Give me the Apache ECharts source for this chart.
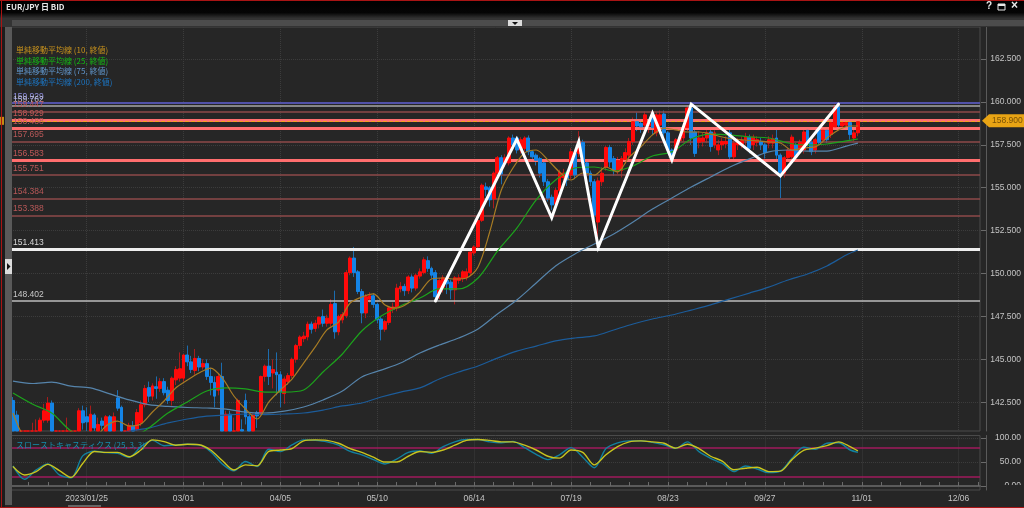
<!DOCTYPE html>
<html>
<head>
<meta charset="utf-8">
<title>EUR/JPY</title>
<style>
  html, body { margin: 0; padding: 0; background: #262626; }
  #chart { width: 1024px; height: 508px; }
</style>
<script src="https://cdn.jsdelivr.net/npm/echarts@6/dist/echarts.min.js"></script>
</head>
<body>
<div id="chart"></div>
<script>
// x axis tick labels, first one sits on bar 19, then one every 25 bars
const dateLabels = ["2023/01/25", "03/01", "04/05", "05/10", "06/14", "07/19", "08/23", "09/27", "11/01", "12/06"];
const barCount = 250;

// open, close, low, high
const candles = [
  [142.6,140.5,140.4,142.8],[141.75,140.6,140.3,142.0],[140.5,140.3,140.0,140.6],[140.3,140.6,140.1,140.7],[140.6,140.4,140.2,140.75],
  [140.7,140.4,140.2,141.3],[140.4,140.7,140.2,141.5],[140.6,141.45,140.4,141.6],[141.45,142.0,141.3,142.4],[141.45,142.45,141.3,142.8],
  [142.45,140.8,140.6,142.6],[140.7,140.4,140.1,140.7],[140.4,140.6,140.2,140.7],[140.6,140.7,140.3,140.8],[140.5,140.7,140.3,141.6],
  [140.7,140.5,140.3,140.8],[140.5,140.7,140.2,140.8],[140.6,142.0,140.5,142.15],[142.0,141.3,140.9,142.3],[141.65,141.35,140.6,142.2],
  [140.6,141.8,140.4,142.3],[141.75,141.0,140.7,141.85],[140.7,141.2,140.5,141.6],[141.4,141.15,140.9,141.6],[140.7,141.65,140.5,141.75],
  [141.65,140.7,140.5,141.75],[140.7,141.65,140.5,141.9],[142.75,142.15,142.0,143.2],[142.2,140.6,140.5,142.3],[140.6,140.4,140.2,140.8],
  [140.4,141.15,140.2,141.3],[141.1,140.7,140.5,141.4],[140.9,141.9,140.8,142.1],[141.3,142.35,141.1,142.6],[142.35,143.3,142.2,143.5],
  [143.35,142.85,142.5,143.7],[142.85,143.45,142.6,143.6],[143.4,143.3,142.7,144.0],[143.3,143.7,143.1,143.9],[143.7,143.05,142.9,143.9],
  [143.2,142.6,142.4,143.4],[142.6,143.9,142.3,144.0],[143.8,144.4,143.5,144.6],[143.9,144.45,143.7,145.4],[143.9,145.25,143.7,145.3],
  [145.25,144.85,144.6,145.8],[144.85,144.4,144.2,145.2],[144.35,145.05,144.1,145.6],[145.05,144.55,144.3,145.2],[144.55,144.75,144.4,145.0],
  [144.75,144.0,143.8,145.0],[144.0,143.65,142.9,144.5],[143.65,142.85,142.2,144.0],[143.2,144.0,142.9,144.2],[144.0,140.6,140.4,144.8],
  [140.6,141.8,140.4,142.0],[141.8,140.6,140.4,142.0],[140.5,140.8,140.2,141.6],[140.6,142.6,140.4,142.7],[140.9,140.6,140.4,141.5],
  [142.6,141.65,141.2,143.0],[141.65,140.6,140.4,141.8],[140.6,141.75,140.4,141.85],[141.9,141.7,141.0,142.0],[141.85,144.0,141.7,144.05],
  [144.0,144.6,143.7,144.7],[144.6,144.0,143.5,145.6],[144.2,144.4,143.3,145.0],[144.25,144.1,142.9,145.4],[144.1,143.1,142.2,144.3],
  [143.0,143.85,142.4,144.0],[143.7,144.05,143.5,144.2],[144.05,145.0,143.9,145.1],[145.0,145.8,144.8,145.9],[145.8,146.3,145.6,146.4],
  [146.2,146.35,146.0,146.6],[146.3,147.05,146.1,147.2],[147.05,146.75,146.5,147.2],[146.8,147.1,146.6,147.3],[147.05,147.45,146.8,147.5],
  [147.5,147.1,146.9,147.9],[147.1,147.4,146.9,147.6],[147.1,148.2,146.9,148.5],[148.25,146.6,146.2,149.0],[146.6,147.5,146.4,147.6],
  [147.3,147.6,147.1,147.75],[147.55,150.05,147.4,150.2],[150.05,150.9,149.9,151.0],[150.9,150.05,149.8,151.55],[150.1,148.95,148.8,150.2],
  [148.95,147.7,147.1,149.1],[147.7,148.65,147.4,148.8],[148.5,148.7,148.3,148.9],[148.7,148.2,148.0,148.85],[148.2,147.3,147.1,148.3],
  [147.35,146.75,146.1,147.5],[146.75,147.2,146.6,147.3],[147.15,148.0,147.0,148.1],[147.9,148.05,147.7,148.3],[148.0,149.15,147.8,149.4],
  [149.1,149.25,148.9,149.5],[149.25,149.0,148.7,149.4],[149.0,149.8,148.8,149.9],[149.8,149.15,148.9,149.95],[149.15,149.9,149.0,150.0],
  [149.85,150.1,149.7,150.3],[150.05,150.8,149.95,150.95],[150.75,150.3,150.1,151.0],[150.3,149.9,149.7,150.4],[150.05,148.65,148.4,150.2],
  [148.85,149.6,148.5,149.75],[149.2,149.75,148.9,149.9],[149.6,149.4,148.8,149.8],[149.5,149.05,148.5,149.65],[149.05,149.75,148.2,149.85],
  [149.6,149.75,149.4,149.95],[149.7,150.1,149.5,150.2],[149.75,150.1,149.6,150.3],[150.05,151.25,149.9,151.35],[151.2,151.55,151.05,151.65],
  [151.55,153.1,151.4,153.2],[153.1,155.15,153.0,155.25],[155.05,154.9,154.5,155.3],[155.0,154.3,153.9,155.1],[154.35,155.85,153.8,155.95],
  [155.85,156.75,155.7,156.85],[156.75,155.8,155.2,156.9],[156.45,156.75,156.2,156.95],[156.45,157.9,156.3,158.0],[157.9,157.5,157.2,158.1],
  [157.9,157.2,157.0,158.0],[157.2,157.8,157.0,157.95],[157.3,157.9,157.1,158.0],[157.9,157.1,156.9,158.05],[157.1,156.8,156.6,157.2],
  [156.9,156.6,156.3,157.0],[156.7,155.85,155.6,156.8],[156.45,155.35,155.1,156.6],[155.35,154.4,154.2,155.5],[154.45,154.0,153.7,154.6],
  [154.05,154.85,153.8,155.0],[154.85,155.9,154.7,156.05],[155.6,155.85,155.3,156.1],[155.85,155.45,155.1,156.0],[155.75,157.1,155.5,157.3],
  [157.0,155.75,155.5,157.2],[157.0,157.65,156.8,158.3],[157.65,156.45,156.2,157.8],[156.45,155.85,155.6,156.6],[155.85,155.35,155.1,156.0],
  [155.35,153.4,153.0,155.5],[153.0,155.4,152.0,155.6],[155.35,155.85,155.1,156.2],[156.2,157.35,156.0,157.45],[157.35,156.5,156.2,157.5],
  [156.7,156.0,155.7,156.85],[156.0,156.6,155.8,156.8],[156.0,156.7,155.6,156.85],[156.65,157.05,156.4,157.3],[156.9,157.7,156.7,157.9],
  [157.7,158.85,157.5,159.1],[158.85,158.6,158.3,159.4],[158.75,158.55,158.2,159.0],[158.65,159.25,158.4,159.45],[158.6,158.75,158.2,158.9],
  [159.25,158.5,158.1,159.35],[158.2,159.25,158.0,159.4],[158.65,159.25,158.3,159.5],[159.3,158.2,157.9,159.5],[158.2,157.2,157.0,158.3],
  [157.2,156.8,156.5,157.3],[157.2,157.8,157.0,157.9],[157.75,157.95,157.5,158.1],[157.9,158.5,157.7,158.6],[158.5,159.65,158.3,159.8],
  [159.65,157.9,157.5,159.85],[158.25,157.0,156.8,158.4],[157.65,157.9,157.3,158.3],[157.7,157.9,157.4,158.2],[157.9,158.2,157.6,158.35],
  [158.25,157.4,157.1,158.4],[157.5,158.2,157.3,158.35],[157.2,157.5,156.9,157.8],[157.5,157.7,157.2,157.9],[157.55,157.7,157.3,158.0],
  [158.2,156.8,156.5,158.4],[156.8,157.6,156.5,157.8],[157.5,157.7,157.2,157.9],[157.55,157.75,157.3,158.0],[157.8,157.95,157.5,158.2],
  [157.95,157.3,157.0,158.1],[157.5,157.95,157.2,158.1],[157.65,157.8,157.4,158.0],[157.7,157.5,157.2,157.9],[157.5,157.05,156.7,157.6],
  [157.6,157.8,157.3,158.0],[157.6,157.85,157.3,158.1],[157.9,156.9,156.6,158.4],[156.9,155.9,154.4,157.0],[155.85,156.75,155.6,156.85],
  [156.75,157.2,156.5,157.3],[156.8,157.95,156.5,158.1],[157.5,156.8,156.5,157.6],[157.2,157.65,157.0,157.8],[157.2,158.25,157.0,158.4],
  [158.35,157.65,157.4,158.5],[157.65,157.1,156.9,157.8],[157.2,157.8,157.0,157.9],[158.35,157.65,157.5,158.5],[157.8,158.35,157.6,158.5],
  [158.35,157.8,157.6,158.5],[158.1,158.8,157.9,159.0],[158.55,159.7,158.4,159.85],[159.7,158.65,158.5,159.95],[158.6,158.8,158.4,159.0],
  [158.65,158.8,158.4,158.95],[158.8,158.1,157.8,159.0],[157.9,158.2,157.7,158.4],[158.2,158.85,158.0,159.0]
];

// moving averages: ma10 every 3 bars, the others every 5 bars
const ma10 = [141.87,140.41,140.0,139.7,139.4,139.4,139.7,140.29,141.11,141.4,141.11,141.23,141.93,142.57,143.33,143.79,144.2,144.49,143.91,142.86,142.1,141.52,142.51,143.21,143.85,144.78,145.72,146.71,147.17,148.28,148.63,148.81,148.17,147.99,148.28,148.92,149.68,149.74,149.68,149.74,150.38,152.42,154.87,156.15,157.03,157.2,156.62,155.92,155.45,155.86,155.74,156.21,155.92,156.79,157.38,158.08,158.48,158.37,158.25,158.25,158.13,157.96,157.84,157.78,157.73,157.67,157.61,157.2,157.32,157.38,157.9,158.37,158.6,158.6];
const ma25 = [143.03,142.39,141.87,140.82,140.41,140.12,140.29,140.99,141.87,142.51,143.15,143.33,143.27,143.09,143.09,143.21,144.26,145.31,146.65,147.52,148.11,148.57,149.1,149.1,149.74,151.31,152.65,154.29,155.45,156.15,156.21,155.98,156.27,156.85,157.09,157.84,158.13,158.08,157.96,157.9,157.61,157.49,157.55,157.73,157.84];
const ma75 = [143.73,143.59,143.67,143.44,143.33,142.98,142.63,142.36,142.25,142.19,142.16,142.1,141.92,141.87,141.98,142.22,142.63,143.15,143.97,144.37,144.78,145.37,145.83,146.24,146.77,147.64,148.46,149.45,150.44,151.14,151.72,152.3,153.0,153.76,154.4,155.04,155.63,156.21,156.68,157.09,157.2,157.14,157.14,157.43,157.6];
// ma200 enters the window at bar 25
const ma200 = [140.53,140.82,140.99,141.29,141.52,141.69,141.75,141.81,141.78,141.81,141.87,142.04,142.28,142.45,142.8,143.09,143.33,143.85,144.26,144.61,145.07,145.48,145.77,146.07,146.24,146.36,146.71,147.06,147.35,147.58,147.87,148.17,148.52,148.86,149.21,149.62,149.97,150.44,151.08,151.37];

// slow stochastic, every 3 bars
const stochK = [41.8,14,33.5,46,23,17,62.7,72.4,69.6,68,60,82,95,84,85.6,87,85.6,71.7,46,31.5,51,40.5,76.6,71.7,85.6,96,95,92,85,72,65,55,46,56,70,73,68,82,92,97,97,92,90,93,80,66,55,65,80,60,38,78,90,94,94,91,86,78.5,92,71.6,57.7,47,30,41.7,35.5,27.8,31,57.7,80.6,76.4,89,90,75,70];
const stochD = [40.5,23,30,45,32,18,47,72,70,70,61,75,96,92.5,85,87,86,75,53,33.5,44,42,72,75,78,94,96,95,89,78,70,60,50,50,62,72,70,75,85,95,97,95,92,92,85,75,62,58,75,70,44,65,82,92,94,92,89,79,87,78,62,52,34,37,39,30,31,55,74,79,84,92,82,73];

// hand drawn trend line: bar index and price
const zigzagBars = [109, 130, 139, 146, 151, 165, 170, 175, 198, 213];
const zigzagPrices = [148.4, 157.83, 153.25, 157.69, 151.53, 159.34, 156.62, 159.87, 155.69, 159.87];

const priceTicks = [142.5, 145, 147.5, 150, 152.5, 155, 157.5, 160, 162.5];
const stochTicks = [0, 50, 100];
const stochBands = [80, 20];

const thinLevels = [159.447, 157.695, 155.751, 154.384, 153.388];
const thickLevels = [158.929, 158.488, 156.583];
const purpleLevel = 159.929;
const greyLevel = 159.762;
const whiteThickLevel = 151.413;
const whiteThinLevel = 148.402;
const lastPrice = 158.9;

const legendNames = ["単純移動平均線 (10, 終値)", "単純移動平均線 (25, 終値)", "単純移動平均線 (75, 終値)", "単純移動平均線 (200, 終値)"];

const FONT = "'Liberation Sans', sans-serif";
const LAST_BAR = candles.length - 1;
const PRICE_MIN = 140.82, PRICE_MAX = 164.37;
const C_MA10 = "#a87c24", C_MA25 = "#1ca31c", C_MA75 = "#5684ab", C_MA200 = "#1c5c9a";
const C_LEGEND = ["#c8921c", "#14b814", "#6096cc", "#1c74c0"];

const categories = [];
for (let i = 0; i < barCount; i++) {
  const k = (i - 19) / 25;
  categories.push(Number.isInteger(k) && dateLabels[k] ? dateLabels[k] : "");
}

const sampledIdx = (values, step, first = 0) =>
  values.map((v, k) => [Math.min(first + k * step, LAST_BAR), v]);

const isLabelBar = (i) => (i - 19) % 25 === 0;
const isTickBar = (i) => (i - 19) % 5 === 0;
// candlestick only drops boxes fully outside the grid, so stop the rest at the bottom edge
const floorPrice = (v) => Math.max(v, PRICE_MIN);

function levelLine(value, color, width, labelColor) {
  return {
    yAxis: value,
    lineStyle: { color: color, width: width, type: "solid" },
    label: {
      show: true,
      position: "insideStartTop",
      formatter: value.toFixed(3),
      color: labelColor,
      fontSize: 8.5,
      fontFamily: FONT,
      distance: 2
    }
  };
}

const chart = echarts.init(document.getElementById("chart"), null, { renderer: "canvas" });

const maSeries = (name, values, step, color, first) => ({
  name: name,
  type: "line",
  xAxisIndex: 0,
  yAxisIndex: 0,
  data: sampledIdx(values, step, first),
  symbol: "none",
  smooth: 0.3,
  lineStyle: { color: color, width: 1.2 },
  z: 4,
  silent: true
});

const stochSeries = (name, values, color, z) => ({
  name: name,
  type: "line",
  xAxisIndex: 1,
  yAxisIndex: 1,
  data: sampledIdx(values, 3),
  symbol: "none",
  smooth: 0.3,
  lineStyle: { color: color, width: 1.4 },
  z: z,
  silent: true
});

const legendText = legendNames.map((name, i) => ({
  type: "text",
  left: 16,
  top: 46 + i * 10.6,
  z: 50,
  style: { text: name, fill: C_LEGEND[i], font: "8px 'Noto Sans CJK JP', sans-serif" }
}));

const rect = (x, y, w, h, fill, z) => ({
  type: "rect", silent: true, z: z, shape: { x: x, y: y, width: w, height: h }, style: { fill: fill }
});

chart.setOption({
  animation: false,
  backgroundColor: "#262626",
  grid: [
    { left: 11, top: 27, width: 969, height: 404, show: true, borderColor: "#4a4a4a", borderWidth: 1, backgroundColor: "transparent" },
    { left: 11, top: 435.5, width: 969, height: 54.5, show: true, borderColor: "#4a4a4a", borderWidth: 1, backgroundColor: "transparent" }
  ],
  xAxis: [
    {
      type: "category", gridIndex: 0, data: categories,
      axisLine: { show: false }, axisTick: { show: false }, axisLabel: { show: false },
      splitLine: { show: true, interval: isLabelBar, alignWithLabel: true, lineStyle: { color: "#3c3c3c", type: "dotted" } }
    },
    {
      type: "category", gridIndex: 1, data: categories,
      axisLine: { show: true, lineStyle: { color: "#5a5a5a", width: 2 } },
      axisTick: { show: true, inside: true, length: 4, interval: isTickBar, alignWithLabel: true, lineStyle: { color: "#6a6a6a" } },
      axisLabel: { show: true, interval: isLabelBar, color: "#c4c4c4", fontSize: 8.5, fontFamily: FONT, margin: 4 },
      splitLine: { show: true, interval: isLabelBar, alignWithLabel: true, lineStyle: { color: "#3c3c3c", type: "dotted" } }
    }
  ],
  yAxis: [
    {
      type: "value", gridIndex: 0, position: "right", offset: 6, min: PRICE_MIN, max: PRICE_MAX, scale: true,
      axisLine: { show: true, lineStyle: { color: "#5a5a5a", width: 1 } },
      axisTick: { show: true, inside: true, length: 5, customValues: priceTicks, lineStyle: { color: "#6a6a6a" } },
      axisLabel: {
        customValues: priceTicks, formatter: (v) => v.toFixed(3), color: "#c4c4c4",
        fontSize: 8.5, fontFamily: FONT, align: "right", margin: 35
      },
      splitLine: { show: true, lineStyle: { color: "#3c3c3c", type: "dotted" } }
    },
    {
      type: "value", gridIndex: 1, position: "right", offset: 6, min: -8.3, max: 105.2,
      axisLine: { show: true, lineStyle: { color: "#5a5a5a", width: 1 } },
      axisTick: { show: true, inside: true, length: 5, customValues: stochTicks, lineStyle: { color: "#6a6a6a" } },
      axisLabel: {
        customValues: stochTicks, formatter: (v) => v.toFixed(2), color: "#c4c4c4",
        fontSize: 8.5, fontFamily: FONT, align: "right", margin: 35
      },
      splitLine: { show: true, lineStyle: { color: "#3c3c3c", type: "dotted" } }
    }
  ],
  series: [
    // wicks first in a dim colour, bodies on top
    {
      name: "wick", type: "candlestick", xAxisIndex: 0, yAxisIndex: 0,
      data: candles.map((c) => c.map(floorPrice)),
      barWidth: 1, z: 2, silent: true,
      itemStyle: { color: "#a81c1c", color0: "#1c6cae", borderColor: "#a81c1c", borderColor0: "#1c6cae", borderWidth: 1 }
    },
    {
      name: "body", type: "candlestick", xAxisIndex: 0, yAxisIndex: 0,
      data: candles.map((c) => {
        const o = floorPrice(c[0]), cl = floorPrice(c[1]);
        return [o, cl, Math.min(o, cl), Math.max(o, cl)];
      }),
      barWidth: 3.4, z: 3, silent: true,
      itemStyle: { color: "#ff0a0a", color0: "#1484e6", borderColor: "#ff0a0a", borderColor0: "#1484e6", borderWidth: 1 }
    },
    {
      name: "levels", type: "line", xAxisIndex: 0, yAxisIndex: 0, data: [], silent: true, z: 3,
      markLine: {
        silent: true, symbol: "none", z: 3, animation: false,
        data: [
          levelLine(purpleLevel, "#5252a8", 2, "#9090e0"),
          levelLine(greyLevel, "#a8a8a8", 1.5, "#c0c0d8"),
          ...thinLevels.map((v) => levelLine(v, "#8e4a4a", 1.5, "#b85858")),
          ...thickLevels.map((v) => levelLine(v, "#ff6e6e", 3, "#c05858")),
          levelLine(whiteThickLevel, "#eeeeee", 3, "#d8d8d8"),
          levelLine(whiteThinLevel, "#bdbdbd", 1.5, "#c8c8c8"),
          { yAxis: lastPrice, lineStyle: { color: "#f0a020", width: 1, type: "dashed" }, label: { show: false } }
        ]
      }
    },
    maSeries("ma200", ma200, 5, C_MA200, 25),
    maSeries("ma75", ma75, 5, C_MA75),
    maSeries("ma25", ma25, 5, C_MA25),
    maSeries("ma10", ma10, 3, C_MA10),
    {
      name: "zigzag", type: "line", xAxisIndex: 0, yAxisIndex: 0,
      data: zigzagBars.map((b, i) => [b, zigzagPrices[i]]),
      symbol: "none", z: 6, silent: true,
      lineStyle: { color: "#ffffff", width: 3, cap: "round", join: "miter" }
    },
    {
      name: "bands", type: "line", xAxisIndex: 1, yAxisIndex: 1, data: [], silent: true, z: 2,
      markLine: {
        silent: true, symbol: "none", z: 2, animation: false,
        lineStyle: { color: "#a01a5c", width: 1.5, type: "solid" }, label: { show: false },
        data: stochBands.map((v) => ({ yAxis: v }))
      }
    },
    stochSeries("k", stochK, "#12809e", 3),
    stochSeries("d", stochD, "#c8c41e", 4)
  ]
});

// window chrome and the tag for the last price, placed from the y axis
const tagY = chart.convertToPixel({ yAxisIndex: 0 }, lastPrice);
chart.setOption({
  graphic: [
    rect(0, 0, 5, 508, "#1c1c1c", 30),
    rect(5, 27, 7, 478, "#595959", 31),
    rect(0, tagY - 4, 4, 8, "#c88a12", 32),
    rect(0, 18, 1024, 9, "#333333", 30),
    rect(12, 20, 1012, 6, "#4c4c4c", 31),
    rect(987, 485, 37, 9, "#262626", 40),
    {
      type: "rect", silent: true, z: 32,
      shape: { x: 0, y: 0, width: 1024, height: 18 },
      style: { fill: new echarts.graphic.LinearGradient(0, 0, 0, 1, [{ offset: 0, color: "#000000" }, { offset: 0.7, color: "#050505" }, { offset: 1, color: "#303030" }]) }
    },
    { type: "text", left: 6, top: 3, z: 33, style: { text: "EUR/JPY 日 BID", fill: "#e8e8e8", font: "bold 8px 'Noto Sans CJK JP', sans-serif" } },
    { type: "text", left: 986, top: 1, z: 33, style: { text: "?", fill: "#e8e8e8", font: "bold 10px 'Liberation Sans', sans-serif" } },
    { type: "rect", silent: true, z: 33, shape: { x: 998, y: 4, width: 7, height: 6 }, style: { fill: "none", stroke: "#e8e8e8", lineWidth: 1 } },
    { type: "rect", silent: true, z: 33, shape: { x: 998, y: 4, width: 7, height: 2 }, style: { fill: "#e8e8e8" } },
    { type: "text", left: 1011, top: 0, z: 33, style: { text: "×", fill: "#e8e8e8", font: "bold 12px 'Liberation Sans', sans-serif" } },
    rect(508, 20, 14, 6, "#dcdcdc", 33),
    { type: "polygon", silent: true, z: 34, shape: { points: [[512, 22], [518, 22], [515, 25]] }, style: { fill: "#111" } },
    rect(5, 259, 7, 15, "#dcdcdc", 33),
    { type: "polygon", silent: true, z: 34, shape: { points: [[7, 263], [7, 270], [10.5, 266.5]] }, style: { fill: "#111" } },
    // red frame, left, top and bottom only
    rect(1, 0, 1, 508, "#a81414", 60),
    rect(0, 0, 1024, 1, "#a81414", 60),
    rect(0, 507, 1024, 1, "#a81414", 60),
    rect(68, 505, 33, 2, "#666666", 33),
    ...legendText,
    { type: "text", left: 16, top: 441, z: 50, style: { text: "スローストキャスティクス (25, 3, 3)", fill: "#1690b0", font: "8px 'Noto Sans CJK JP', sans-serif" } },
    {
      type: "polygon", silent: true, z: 45,
      shape: { points: [[982, tagY], [989, tagY - 6.5], [1024, tagY - 6.5], [1024, tagY + 6.5], [989, tagY + 6.5]] },
      style: { fill: "#e8a414" }
    },
    { type: "text", left: 992, top: tagY - 5, z: 46, style: { text: lastPrice.toFixed(3), fill: "#7a5206", font: "8.5px " + FONT } }
  ]
});
</script>
</body>
</html>
